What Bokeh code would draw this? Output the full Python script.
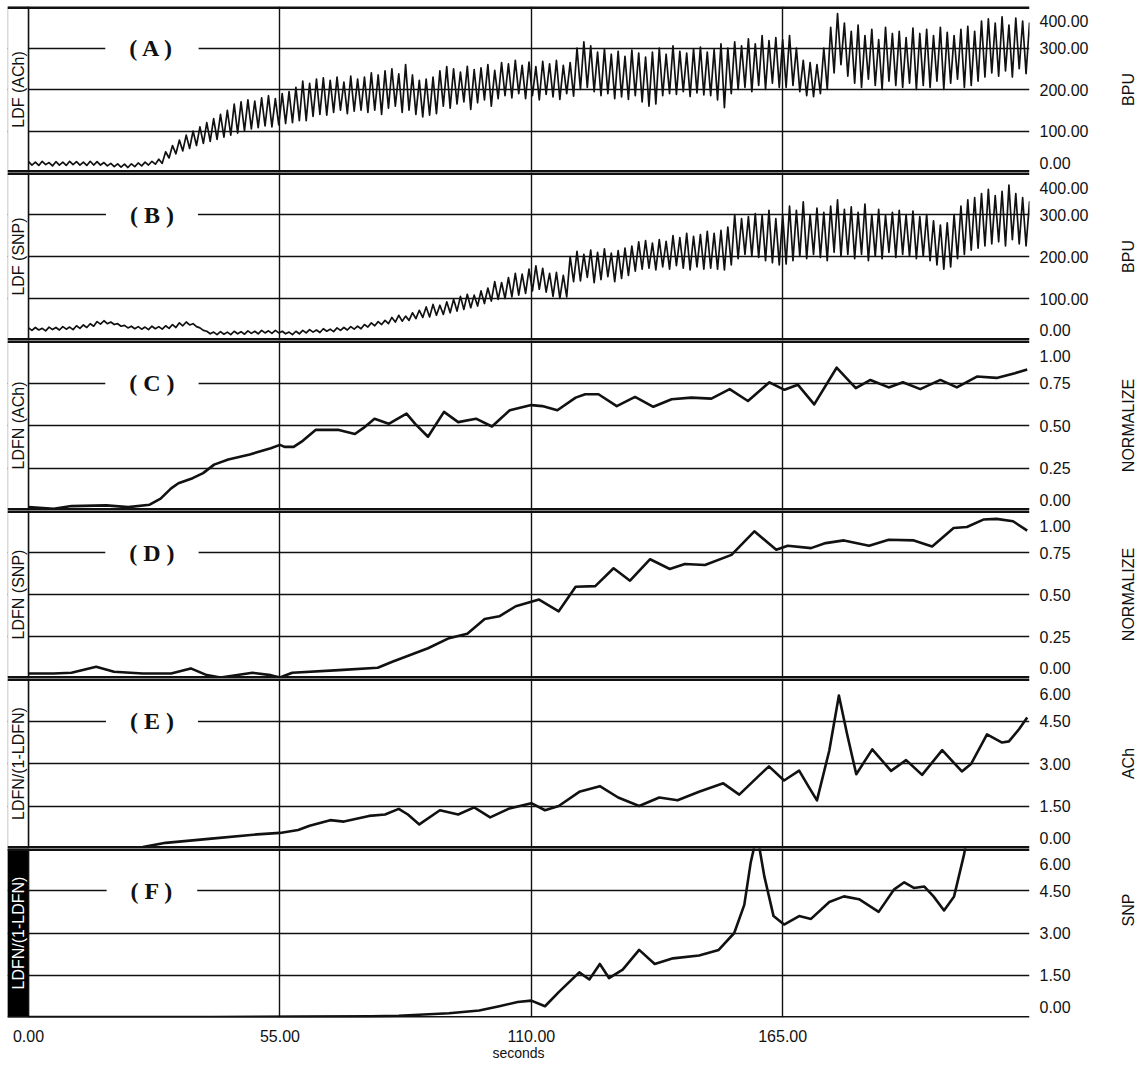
import math
from bokeh.plotting import figure
from bokeh.models import (Range1d, FixedTicker, PrintfTickFormatter, Label, Span,
                          BoxAnnotation)
from bokeh.layouts import column, row
from bokeh.embed import file_html
from bokeh.resources import INLINE

# ---------------- data ----------------
x_ticks = [0, 55, 110, 165]
x_end = 219

# LDF traces: peak / trough values every 1.5 s (BPU)
ab_step = 1.5
A_hi = [26, 25, 27, 24, 26, 25, 27, 26, 25, 27,
        26, 24, 22, 21, 20, 21, 23, 25, 27, 32,
        50, 65, 78, 90, 100, 110, 120, 130, 140, 150,
        165, 170, 175, 172, 180, 185, 178, 190, 195, 205,
        220, 215, 225, 228, 222, 230, 218, 232, 225, 230,
        240, 235, 245, 250, 238, 260, 235, 222, 225, 230,
        245, 255, 250, 242, 256, 248, 252, 260, 246, 265,
        262, 270, 258, 266, 255, 268, 262, 270, 258, 265,
        300, 315, 305, 290, 298, 285, 292, 280, 295, 288,
        278, 290, 300, 285, 305, 292, 288, 298, 302, 290,
        296, 310, 300, 315, 305, 322, 310, 330, 318, 325,
        320, 330, 300, 270, 265, 260, 300, 350, 383, 360,
        340, 355, 330, 345, 320, 350, 335, 340, 325, 348,
        335, 345, 330, 350, 338, 330, 345, 352, 340, 365,
        370, 360, 375, 355, 372, 365, 360]
A_lo = [18, 17, 19, 16, 18, 17, 19, 18, 17, 18,
        18, 16, 14, 13, 12, 14, 16, 18, 20, 22,
        35, 45, 52, 58, 65, 70, 75, 80, 85, 90,
        95, 100, 105, 108, 112, 110, 115, 118, 120, 125,
        125, 135, 140, 138, 145, 150, 142, 148, 150, 145,
        150, 140, 155, 160, 145, 150, 140, 134, 138, 142,
        160, 155, 165, 170, 152, 168, 175, 160, 178, 185,
        180, 190, 178, 185, 175, 188, 182, 176, 190, 184,
        200, 205, 195, 185, 190, 178, 182, 176, 185, 170,
        160, 165, 185, 190, 188, 195, 183, 192, 187, 185,
        175, 156, 190, 200, 205, 195, 210, 200, 215, 205,
        205, 210, 195, 185, 183, 190, 200, 240, 260, 232,
        215, 205, 225, 210, 200, 220, 210, 205, 215, 200,
        210, 205, 220, 200, 215, 225, 205, 210, 220, 230,
        240, 232, 245, 230, 250, 238, 255]
B_hi = [30, 31, 29, 32, 31, 33, 32, 35, 37, 40,
        45, 47, 44, 40, 36, 34, 33, 32, 34, 33,
        35, 38, 42, 44, 40, 30, 22, 20, 21, 20,
        22, 21, 23, 22, 24, 23, 24, 22, 20, 22,
        24, 26, 25, 28, 27, 30, 31, 33, 34, 38,
        42, 45, 48, 55, 60, 58, 66, 72, 80, 86,
        84, 92, 98, 105, 110, 108, 118, 125, 140, 138,
        150, 160, 158, 170, 178, 172, 160, 162, 155, 200,
        212, 205, 215, 210, 218, 208, 214, 220, 225, 235,
        238, 232, 240, 236, 250, 245, 255, 248, 252, 260,
        255, 262, 270, 300, 290, 295, 302, 298, 310, 290,
        300, 320, 310, 330, 300, 315, 305, 320, 335, 312,
        318, 305, 325, 300, 312, 298, 305, 310, 300, 308,
        295, 300, 285, 275, 280, 300, 320, 335, 340, 350,
        360, 345, 355, 370, 350, 340, 330]
B_lo = [24, 25, 23, 26, 25, 27, 26, 29, 31, 34,
        39, 40, 38, 34, 30, 28, 27, 26, 28, 27,
        29, 31, 35, 37, 33, 24, 16, 14, 15, 14,
        16, 15, 17, 16, 18, 17, 18, 16, 14, 16,
        18, 20, 19, 22, 21, 24, 25, 27, 28, 32,
        35, 38, 40, 44, 46, 48, 52, 55, 56, 60,
        62, 66, 70, 74, 78, 82, 88, 94, 98, 100,
        104, 108, 112, 118, 122, 115, 105, 100, 104, 140,
        142, 150, 138, 145, 152, 140, 148, 155, 165, 170,
        172, 168, 175, 170, 178, 172, 168, 175, 170, 172,
        170, 168, 180, 195, 205, 200, 198, 190, 185, 180,
        182, 190, 200, 195, 205, 198, 190, 210, 200, 205,
        195, 205, 190, 200, 195, 210, 198, 205, 200, 195,
        200, 190, 180, 170, 175, 195, 205, 215, 220, 225,
        230, 235, 225, 240, 230, 225, 220]

# LDFN (ACh), normalized
C_t = [0, 5.5, 9.4, 17, 21.8, 26.5, 28.9, 31.2, 32.8, 35.9, 38.2, 40.6, 43.7, 48.4,
       53, 55, 56, 58, 60, 62.8, 67.9, 71.4, 73.3, 75.7, 78.8, 82.7, 84.6, 87.4,
       90.9, 94, 97.9, 101.4, 105.3, 110, 112.4, 115.7, 119.7, 121.8, 124.7, 128.7,
       132.7, 136.7, 140.7, 145, 149.4, 153.4, 157.4, 162.1, 165.4, 168.3, 171.9,
       176.8, 181, 184.2, 188.2, 191.3, 195.1, 199.5, 203.1, 207.5, 211.8, 215.8, 218.5]
C_v = [0.02, 0.01, 0.026, 0.03, 0.02, 0.034, 0.07, 0.13, 0.16, 0.19, 0.22, 0.27, 0.30,
       0.33, 0.366, 0.386, 0.374, 0.374, 0.41, 0.474, 0.474, 0.45, 0.486, 0.54, 0.51,
       0.57, 0.51, 0.434, 0.58, 0.52, 0.54, 0.494, 0.59, 0.62, 0.614, 0.59, 0.664,
       0.684, 0.684, 0.614, 0.668, 0.61, 0.654, 0.664, 0.658, 0.714, 0.644, 0.754,
       0.71, 0.74, 0.624, 0.84, 0.72, 0.768, 0.724, 0.754, 0.714, 0.768, 0.724,
       0.788, 0.78, 0.808, 0.83]

# LDFN (SNP), normalized
D_t = [0, 5.5, 9.4, 14.8, 18.7, 25, 31.2, 35.5, 39, 42, 49, 53, 55, 57.7, 67.9, 76.4,
       79.6, 87.4, 92, 96, 99.8, 103, 106.6, 111.7, 116, 119.7, 124, 128, 131.6, 136,
       140.3, 143.6, 148, 153.8, 158.8, 163.6, 166.1, 171.2, 174.4, 178.4, 183.9,
       188.2, 193.7, 197.7, 202.4, 205.3, 208.9, 211.8, 215.4, 218.5]
D_v = [0.03, 0.03, 0.034, 0.07, 0.04, 0.03, 0.03, 0.06, 0.02, 0.006, 0.034, 0.02,
       0.006, 0.034, 0.05, 0.064, 0.1, 0.18, 0.24, 0.266, 0.354, 0.37, 0.43, 0.47,
       0.40, 0.546, 0.55, 0.656, 0.582, 0.71, 0.652, 0.682, 0.676, 0.736, 0.876,
       0.766, 0.79, 0.776, 0.806, 0.822, 0.79, 0.826, 0.822, 0.786, 0.896, 0.902,
       0.946, 0.95, 0.936, 0.88]

# LDFN/(1-LDFN), ACh
E_t = [0, 10, 20, 25, 30, 40, 50, 55, 59, 61.5, 66, 69, 74.5, 78, 81, 83, 85.5, 90,
       94, 97.5, 101, 105, 110, 113, 116, 120.5, 125, 129, 133.6, 138, 142, 146.7,
       152, 155.5, 160, 162, 165.3, 168.6, 170.8, 172.5, 175.2, 177.3, 179.1, 181.1,
       184.6, 188.7, 192, 195.5, 199.9, 204.2, 206.2, 209.7, 213, 214.5, 216.7, 218.5]
E_v = [0.0, 0.0, 0.02, 0.05, 0.2, 0.35, 0.5, 0.55, 0.65, 0.8, 1.0, 0.95, 1.15, 1.2,
       1.4, 1.2, 0.85, 1.35, 1.2, 1.45, 1.1, 1.4, 1.6, 1.35, 1.5, 2.0, 2.2, 1.8, 1.5,
       1.8, 1.7, 2.0, 2.3, 1.9, 2.6, 2.9, 2.4, 2.75, 2.15, 1.7, 3.46, 5.4, 4.03, 2.62,
       3.5, 2.74, 3.12, 2.6, 3.47, 2.72, 2.98, 4.03, 3.74, 3.78, 4.21, 4.62]

# LDFN/(1-LDFN), SNP
F_t = [0, 20, 40, 60, 75, 81, 92, 98.6, 103, 107, 110, 113, 116, 120.5, 122.7, 125,
       127, 130, 133.6, 137, 141, 146.7, 151, 154.4, 156.6, 158, 159.4, 161, 163,
       165.3, 168.6, 171.2, 175.2, 178.4, 181.7, 186, 189.4, 191.6, 193.7, 196, 198,
       200.3, 202.5, 204.7, 206.5]
F_v = [0.02, 0.02, 0.02, 0.03, 0.04, 0.06, 0.15, 0.25, 0.4, 0.55, 0.6, 0.4, 0.9, 1.6,
       1.35, 1.9, 1.4, 1.7, 2.4, 1.9, 2.1, 2.2, 2.4, 3.0, 4.0, 5.5, 6.5, 5.0, 3.6, 3.3,
       3.6, 3.5, 4.1, 4.3, 4.2, 3.75, 4.55, 4.8, 4.6, 4.65, 4.3, 3.8, 4.3, 5.8, 7.5]

bpu_ticks = [0, 100, 200, 300, 400]
norm_ticks = [0, 0.25, 0.5, 0.75, 1.0]
ratio_ticks = [0, 1.5, 3.0, 4.5, 6.0]

letters = ["( A )", "( B )", "( C )", "( D )", "( E )", "( F )"]
left_names = ["LDF (ACh)", "LDF (SNP)", "LDFN (ACh)", "LDFN (SNP)",
              "LDFN/(1-LDFN)", "LDFN/(1-LDFN)"]
right_names = ["BPU", "BPU", "NORMALIZE", "NORMALIZE", "ACh", "SNP"]
x_title = "seconds"

# ---------------- styling ----------------
SANS = "Liberation Sans"
SERIF = "Liberation Serif"
INK = "#111111"
X0 = -4.6                      # left edge: room for the label box
x_range = Range1d(X0, x_end)
FRAME_W = 1022
SIDE_W = 22
heights = [166, 168, 170, 168, 170, 169]


def zigzag(hi, lo, step):
    xs, ys = [], []
    for i, (h, l) in enumerate(zip(hi, lo)):
        xs += [i * step, i * step + step / 2]
        ys += [h, l]
    return xs, ys


def side_title(idx, top=False):
    """Narrow strip on the far right holding the unit title, read bottom to top."""
    fh = heights[idx]
    s = figure(width=SIDE_W, height=fh + (6 if top else 0), x_range=(0, 1),
               y_range=(0, 1), x_axis_location=None, y_axis_location=None,
               toolbar_location=None, output_backend="svg",
               min_border_left=0, min_border_right=0,
               min_border_top=6 if top else 0, min_border_bottom=0)
    s.outline_line_color = None
    s.grid.visible = False
    s.add_layout(Label(x=0.5, y=0.5, text=right_names[idx], angle=math.pi / 2,
                       text_align="center", text_baseline="middle",
                       text_font=SANS, text_font_size="16px", text_color=INK))
    return s


def panel(idx, yticks, xs, ys, lw, dark=False, bottom=False, top=False):
    ylo, yhi = yticks[0], yticks[-1]
    fh = heights[idx]
    p = figure(frame_width=FRAME_W, frame_height=fh, x_range=x_range,
               y_range=Range1d(ylo, yhi), y_axis_location="right",
               x_axis_location="below" if bottom else None,
               toolbar_location=None, output_backend="svg",
               min_border_left=7, min_border_right=88,
               min_border_top=6 if top else 0,
               min_border_bottom=0)
    p.outline_line_color = None
    p.background_fill_color = "white"
    p.xgrid.ticker = FixedTicker(ticks=x_ticks[1:])
    p.ygrid.ticker = FixedTicker(ticks=yticks[1:-1])
    p.xgrid.grid_line_color = INK
    p.ygrid.grid_line_color = INK
    p.xgrid.grid_line_width = 1.4
    p.ygrid.grid_line_width = 1.7

    p.line(xs, ys, line_color=INK, line_width=lw, line_join="round")

    # left label box
    p.add_layout(BoxAnnotation(right=0, fill_color="black" if dark else "white",
                               fill_alpha=1, line_color=INK, line_width=1.5))
    p.add_layout(Span(location=0, dimension="height", line_color=INK, line_width=1.5))
    p.add_layout(Span(location=ylo, dimension="width", line_color=INK,
                      line_width=3 if bottom else 5))
    p.add_layout(Span(location=yhi, dimension="width", line_color=INK, line_width=5))
    p.add_layout(Label(x=X0 / 2, y=(ylo + yhi) / 2, text=left_names[idx],
                       angle=math.pi / 2, text_align="center", text_baseline="middle",
                       text_font=SANS, text_font_size="16px",
                       text_color="white" if dark else INK))
    p.add_layout(Label(x=27, y=yticks[3], text=letters[idx], text_font=SERIF,
                       text_font_style="bold", text_font_size="24px",
                       text_align="center", text_baseline="middle", text_color=INK,
                       background_fill_color="white", background_fill_alpha=1,
                       padding=dict(left=24, right=24, top=2, bottom=2)))

    # right axis: edge labels sit just inside the panel
    rng = yhi - ylo
    pos = [ylo + 0.06 * rng] + list(yticks[1:-1]) + [yhi - 0.09 * rng]
    ax = p.yaxis[0]
    ax.ticker = FixedTicker(ticks=pos)
    ax.major_label_overrides = {pos[i]: f"{yticks[i]:.2f}" for i in range(len(pos))}
    ax.axis_line_color = None
    ax.major_tick_line_color = None
    ax.minor_tick_line_color = None
    ax.major_label_standoff = 4
    ax.major_label_text_font = SANS
    ax.major_label_text_font_size = "16px"
    ax.major_label_text_color = INK

    if bottom:
        xa = p.xaxis[0]
        xa.ticker = FixedTicker(ticks=x_ticks)
        xa.formatter = PrintfTickFormatter(format="%.2f")
        xa.axis_line_color = None
        xa.major_tick_line_color = None
        xa.minor_tick_line_color = None
        xa.major_label_standoff = 6
        xa.major_label_text_font = SANS
        xa.major_label_text_font_size = "16px"
        xa.major_label_text_color = INK
        xa.axis_label = x_title
        xa.axis_label_standoff = 0
        xa.axis_label_text_font = SANS
        xa.axis_label_text_font_style = "normal"
        xa.axis_label_text_font_size = "14px"
        xa.axis_label_text_color = INK
    return row(p, side_title(idx, top=top), spacing=0)


ax_, ay_ = zigzag(A_hi, A_lo, ab_step)
bx_, by_ = zigzag(B_hi, B_lo, ab_step)

rows = [
    panel(0, bpu_ticks, ax_, ay_, 1.7, top=True),
    panel(1, bpu_ticks, bx_, by_, 1.7),
    panel(2, norm_ticks, C_t, C_v, 2.6),
    panel(3, norm_ticks, D_t, D_v, 2.6),
    panel(4, ratio_ticks, E_t, E_v, 2.6),
    panel(5, ratio_ticks, F_t, F_v, 2.6, dark=True, bottom=True),
]

layout = column(*rows, spacing=0)
open("out.html", "w").write(file_html(layout, INLINE, title="LDF"))
